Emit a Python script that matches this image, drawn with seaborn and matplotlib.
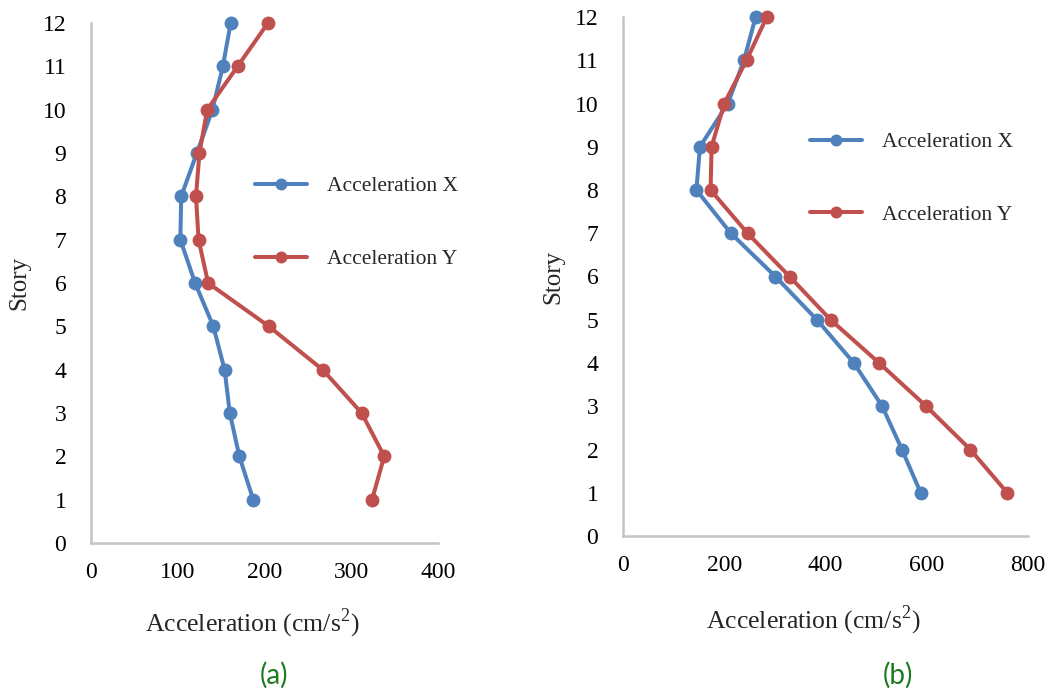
import numpy as np
import pandas as pd
import seaborn as sns
import matplotlib
matplotlib.use("Agg")
import matplotlib.pyplot as plt

stories = [12, 11, 10, 9, 8, 7, 6, 5, 4, 3, 2, 1]
a_acc_x = [161, 152, 140, 122, 104, 103, 120, 141, 154, 160, 171, 187]
a_acc_y = [204, 169, 134, 125, 121, 124, 135, 205, 267, 312, 338, 324]
b_acc_x = [262, 239, 207, 152, 145, 213, 301, 383, 456, 512, 551, 588]
b_acc_y = [284, 244, 200, 175, 173, 246, 329, 410, 506, 599, 686, 759]
series_names = ["Acceleration X", "Acceleration Y"]
a_xticks = [0, 100, 200, 300, 400]
b_xticks = [0, 200, 400, 600, 800]
y_ticks = list(range(0, 13))
panel_labels = ["(a)", "(b)"]

sns.set_theme(style="white")
plt.rcParams["font.family"] = ["Liberation Serif", "DejaVu Serif"]
plt.rcParams["mathtext.fontset"] = "custom"
plt.rcParams["mathtext.rm"] = "Liberation Serif"

colors = {"Acceleration X": "#4F81BD", "Acceleration Y": "#C0504D"}
axis_color = "#C4C4C4"

fig = plt.figure(figsize=(10.5, 6.9), dpi=100)
W, H = 1050, 690
ax_a = fig.add_axes([91 / W, 1 - 543 / H, (438 - 91) / W, (543 - 23) / H])
ax_b = fig.add_axes([623 / W, 1 - 536 / H, (1028 - 623) / W, (536 - 17) / H])

def make_df(xv, yv):
    rows = []
    for name, vals in zip(series_names, [xv, yv]):
        for s, v in zip(stories, vals):
            rows.append({"Acceleration": v, "Story": s, "Series": name})
    return pd.DataFrame(rows)

panels = [
    (ax_a, make_df(a_acc_x, a_acc_y), a_xticks, (0.473, 0.616), (-0.205, 0.465, -0.154)),
    (ax_b, make_df(b_acc_x, b_acc_y), b_xticks, (0.462, 0.689), (-0.173, 0.469, -0.162)),
]

for ax, df, xt, legpos, labpos in panels:
    sns.lineplot(data=df, x="Acceleration", y="Story", hue="Series", palette=colors,
                 sort=False, estimator=None, marker="o", markersize=10,
                 markeredgewidth=0, linewidth=2.9, ax=ax, clip_on=False)
    ax.set_xlim(xt[0], xt[-1])
    ax.set_ylim(0, 12)
    ax.set_xticks(xt)
    ax.set_yticks(y_ticks)
    ax.set_xticklabels([str(t) for t in xt])
    ax.set_yticklabels([str(t) for t in y_ticks])
    for side in ["top", "right"]:
        ax.spines[side].set_visible(False)
    for side in ["left", "bottom"]:
        ax.spines[side].set_color(axis_color)
        ax.spines[side].set_linewidth(1.8)
    ax.tick_params(axis="both", which="major", direction="inout", length=11.5, width=1.6,
                   color=axis_color, labelsize=17, labelcolor="black")
    ax.tick_params(axis="x", pad=8)
    ax.tick_params(axis="y", pad=12)
    ax.set_xlabel("Acceleration (cm/s$^2$)", fontsize=18.5)
    ax.set_ylabel("Story", fontsize=18)
    ax.xaxis.label.set_va("center")
    ax.yaxis.label.set_va("center")
    ax.xaxis.set_label_coords(labpos[1], labpos[2])
    ax.yaxis.set_label_coords(labpos[0], 0.5)
    ax.grid(False)
    leg = ax.legend(loc="center left", bbox_to_anchor=legpos, frameon=False,
                    fontsize=15.5, labelspacing=2.45, handlelength=2.42,
                    handletextpad=0.93, borderaxespad=0, borderpad=0)
    for line in leg.get_lines():
        line.set_linewidth(2.9)
        line.set_markersize(8.6)

for xc, lab in zip([274, 898], panel_labels):
    fig.text(xc / W, 1 - 675 / H, lab, color="#1E7A1E", fontsize=20,
             ha="center", va="center", family=["Lato", "DejaVu Sans"])

fig.savefig("out.png", dpi=100, facecolor="white")
